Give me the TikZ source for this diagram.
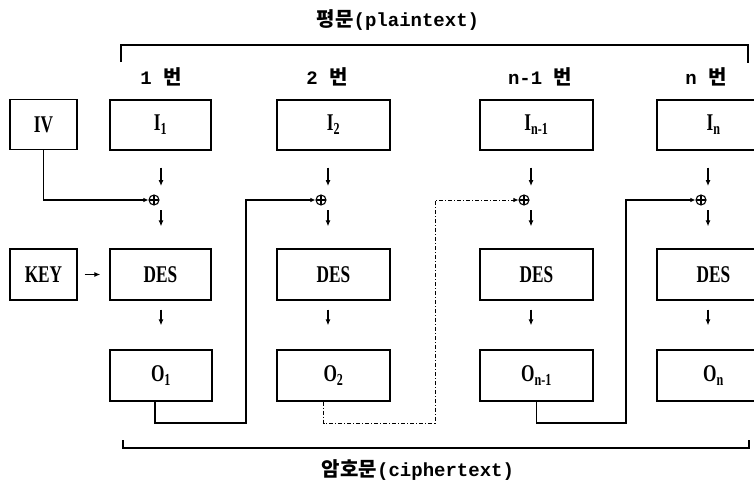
\documentclass[tikz,border=0pt]{standalone}
\usepackage{fontspec}
\setmainfont{Liberation Serif}
\setmonofont{Liberation Mono}
\newfontfamily\kr{Noto Sans CJK KR}
\newfontfamily\boxfont{Liberation Serif}[FakeStretch=0.72]
\newcommand\hg[1]{{\kr\bfseries\fontsize{20}{20}\selectfont #1}}
\usetikzlibrary{arrows,arrows.meta}

\begin{document}
\begin{tikzpicture}[x=1pt,y=-1pt,line width=1.3pt,
  blk/.style={draw,inner sep=0pt,minimum height=50pt,
    font=\boxfont\bfseries\fontsize{24}{24}\selectfont},
  xo/.style={circle,draw,inner sep=0pt,minimum size=10pt,line width=1.1pt,
    path picture={\draw[line width=1.1pt] (path picture bounding box.north) -- (path picture bounding box.south)
      (path picture bounding box.west) -- (path picture bounding box.east);}},
  lbl/.style={font=\ttfamily\bfseries\fontsize{19}{19}\selectfont},
  darr/.style={-{Latex[length=6pt,width=5pt]},line width=1.1pt},
  fb/.style={-{Latex[length=5pt,width=4.5pt]},line width=1.4pt},
  fbd/.style={-{Latex[length=5pt,width=4.5pt]},line width=0.8pt,dash pattern=on 4pt off 2pt on 1pt off 2pt}]
\useasboundingbox (0,0) rectangle (754,487);
\clip (0,0) rectangle (754,487);

% titles
\node[lbl] (plain) at (398,20) {\hg{평문}(plaintext)};
\node[lbl] (cipher) at (418,470) {\hg{암호문}(ciphertext)};
\draw (121,62) |- (748,45) -- (748,63);
\draw (123,440) |- (749,448) -- (749,440);

% column labels
\node[lbl] (n1) at (161,77) {1 \hg{번}};
\node[lbl] (n2) at (327,77) {2 \hg{번}};
\node[lbl] (n3) at (540,77) {n-1 \hg{번}};
\node[lbl] (n4) at (706,77) {n \hg{번}};

% boxes
\node[blk,minimum width=67pt] (iv) at (43.5,124.5) {IV};
\node[blk,minimum width=67pt,minimum height=51pt] (key) at (43.5,274.5) {KEY};
\node[blk,minimum width=101pt] (in1) at (160.5,125) {I\textsubscript{1}};
\node[blk,minimum width=101pt,minimum height=51pt] (des1) at (160.5,274.5) {DES};
\node[blk,minimum width=102pt,minimum height=51pt] (out1) at (161,375.5) {O\textsubscript{1}};
\node[blk,minimum width=113pt] (in2) at (333.5,125) {I\textsubscript{2}};
\node[blk,minimum width=113pt,minimum height=51pt] (des2) at (333.5,274.5) {DES};
\node[blk,minimum width=113pt,minimum height=51pt] (out2) at (333.5,375.5) {O\textsubscript{2}};
\node[blk,minimum width=113pt] (in3) at (536.5,125) {I\textsubscript{n-1}};
\node[blk,minimum width=113pt,minimum height=51pt] (des3) at (536.5,274.5) {DES};
\node[blk,minimum width=113pt,minimum height=51pt] (out3) at (536.5,375.5) {O\textsubscript{n-1}};
\node[blk,minimum width=113pt] (in4) at (713.5,125) {I\textsubscript{n}};
\node[blk,minimum width=113pt,minimum height=51pt] (des4) at (713.5,274.5) {DES};
\node[blk,minimum width=113pt,minimum height=51pt] (out4) at (713.5,375.5) {O\textsubscript{n}};

% xor
\node[xo] (x1) at (154,200) {};
\node[xo] (x2) at (321,200) {};
\node[xo] (x3) at (524,200) {};
\node[xo] (x4) at (701,200) {};

\foreach \i in {1,...,4}{
  \coordinate (a\i) at ([xshift=7pt]x\i.center);
  \draw[darr,shorten <=17pt,shorten >=14pt] (a\i |- in\i.south) -- (a\i);
  \draw[darr,shorten <=10pt,shorten >=22pt] (a\i) -- (a\i |- des\i.north);
  \draw[darr,shorten <=9pt,shorten >=24pt] (a\i |- des\i.south) -- (a\i |- out\i.north);
}
\draw[darr,shorten <=7pt,shorten >=9pt] (key) -- (des1);

% feedback
\coordinate (c1) at (246,423);
\coordinate (c2) at (435,423);
\coordinate (c3) at (626,423);
\draw[fb] (iv) |- (x1);
\draw[fb] ([xshift=-6pt]out1.south) |- (c1) |- (x2);
\draw[fbd] ([xshift=-10pt]out2.south) |- (c2) |- (x3);
\draw[fb] (out3.south) |- (c3) |- (x4);
\end{tikzpicture}
\end{document}
